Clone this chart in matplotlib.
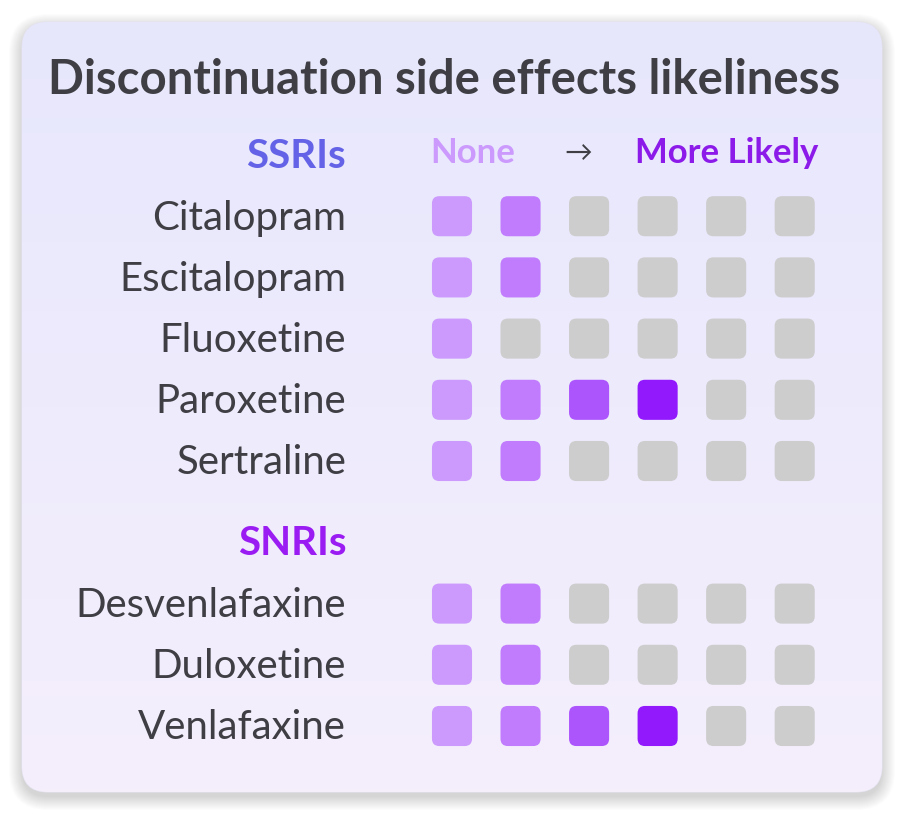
import matplotlib.pyplot as plt
import numpy as np
from matplotlib.patches import FancyBboxPatch
from matplotlib.colors import LinearSegmentedColormap

plt.rcParams["font.family"] = ["Lato", "DejaVu Sans"]

title = "Discontinuation side effects likeliness"
groups = ["SSRIs", "SNRIs"]
group_colors = ["#6462E6", "#9A1CF2"]
ssri_drugs = ["Citalopram", "Escitalopram", "Fluoxetine", "Paroxetine", "Sertraline"]
ssri_levels = [2, 2, 1, 4, 2]
snri_drugs = ["Desvenlafaxine", "Duloxetine", "Venlafaxine"]
snri_levels = [2, 2, 4]
n_steps = 6
scale_left, scale_arrow, scale_right = "None", "→", "More Likely"

level_colors = ["#CB9AFC", "#C07CFD", "#AC55FD", "#9119FC"]
empty_color = "#CDCDCD"
text_color = "#3E3E44"

fig = plt.figure(figsize=(9.04, 8.14), dpi=100)
fig.patch.set_facecolor("white")

# background card, pixel coordinates
bg = fig.add_axes([0, 0, 1, 1])
bg.set_xlim(0, 904)
bg.set_ylim(814, 0)
bg.axis("off")

# soft shadow
for i in range(14):
    sh = FancyBboxPatch((22 - i, 27 - i), 860 + 2 * i, 770 + 2 * i,
                        boxstyle=f"round,pad=0,rounding_size={26 + i}",
                        fc="black", ec="none", alpha=0.013)
    bg.add_patch(sh)

card = FancyBboxPatch((22, 22), 860, 770, boxstyle="round,pad=0,rounding_size=26",
                      fc="none", ec="#E4E2F0", lw=0.8)
bg.add_patch(card)
grad = np.linspace(0, 1, 256).reshape(-1, 1)
cmap = LinearSegmentedColormap.from_list("card", ["#E7E7FC", "#F5EFFC"])
im = bg.imshow(grad, cmap=cmap, extent=[22, 882, 792, 22], aspect="auto", zorder=1)
im.set_clip_path(card)

bg.text(48, 80, title, fontsize=34, fontweight="bold", color=text_color,
        ha="left", va="center")

# grid axes: one unit = row spacing
ax = fig.add_axes([0, 0, 1, 1])
ax.set_xlim(-7.386, 7.386)
ax.set_ylim(10.768, -2.533)
ax.axis("off")
ax.patch.set_alpha(0)

col_step = 1.12
sq = 0.655
group_gap = 0.33
label_x = -1.73

rows = []
y = 0.0
for g, (drugs, levels) in enumerate([(ssri_drugs, ssri_levels), (snri_drugs, snri_levels)]):
    rows.append(("header", g, y))
    y += 1
    for d, lv in zip(drugs, levels):
        rows.append(("drug", (d, lv), y))
        y += 1
    y += group_gap

for kind, item, yy in rows:
    if kind == "header":
        ax.text(label_x, yy + 0.02, groups[item], fontsize=29, fontweight="bold",
                color=group_colors[item], ha="right", va="center")
        if item == 0:
            ax.text(0.34, yy - 0.04, scale_left, fontsize=25, fontweight="bold",
                    color=level_colors[0], ha="center", va="center")
            ax.text(2.06, yy - 0.04, scale_arrow, fontsize=20,
                    color=text_color, ha="center", va="center")
            ax.text(5.6 + sq / 2 + 0.06, yy - 0.04, scale_right, fontsize=25,
                    fontweight="bold", color="#8C1BEA", ha="right", va="center")
        continue
    name, lv = item
    ax.text(label_x, yy + 0.03, name, fontsize=29, color=text_color, ha="right", va="center")
    for c in range(n_steps):
        col = level_colors[c] if c < lv else empty_color
        box = FancyBboxPatch((c * col_step - sq / 2, yy - sq / 2), sq, sq,
                             boxstyle="round,pad=0,rounding_size=0.12",
                             fc=col, ec="none")
        ax.add_patch(box)

fig.savefig("out.png", dpi=100)
